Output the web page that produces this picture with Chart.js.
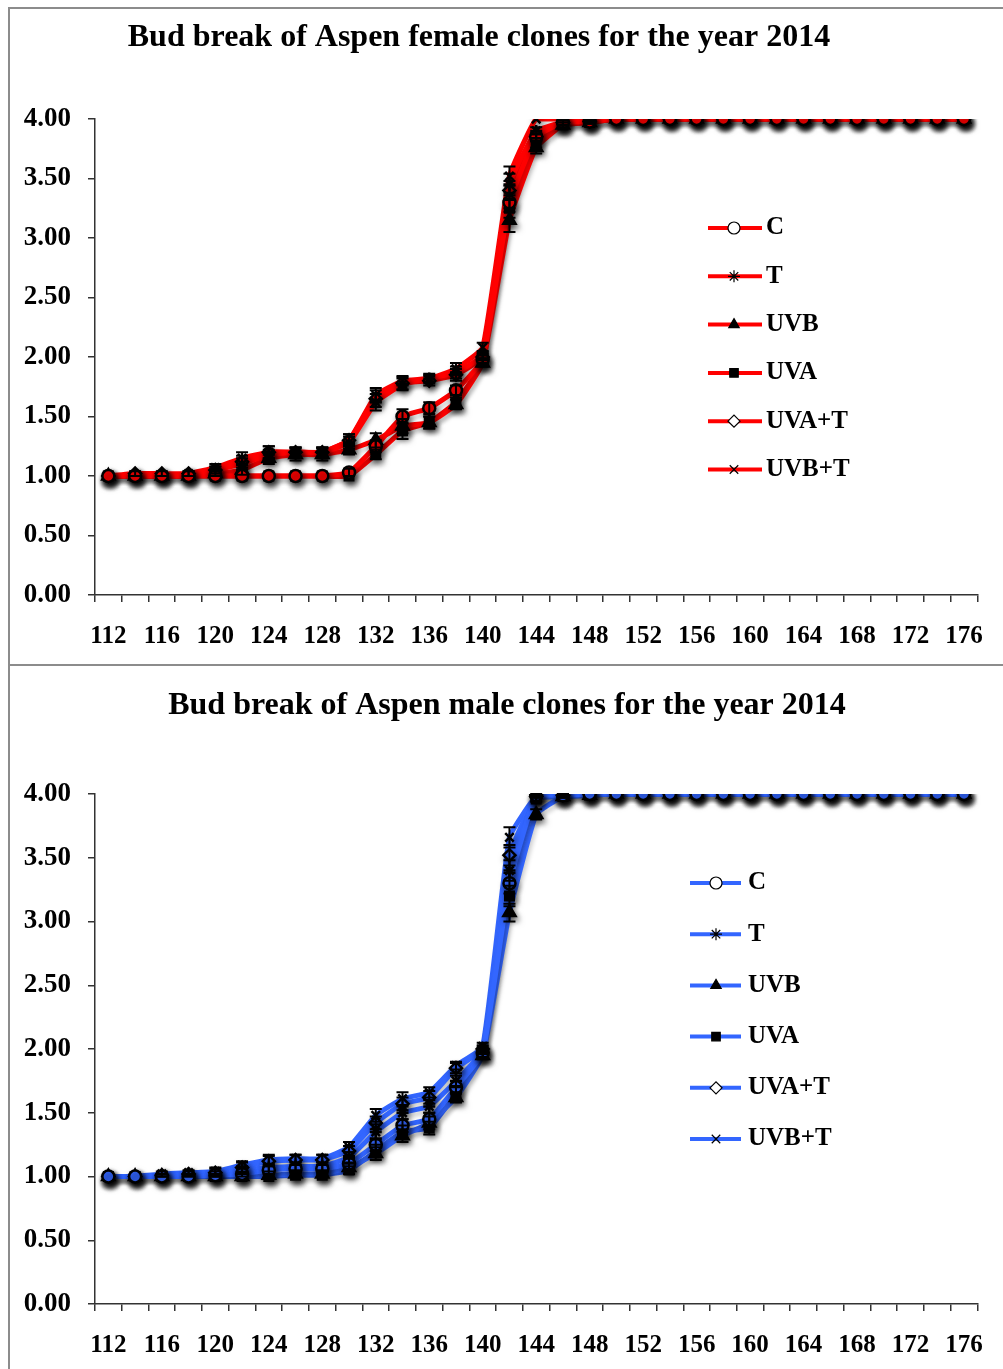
<!DOCTYPE html>
<html>
<head>
<meta charset="utf-8">
<script src="https://cdn.jsdelivr.net/npm/chart.js@4/dist/chart.umd.min.js"></script>
<style>
  body { margin: 0; background: #fff; width: 1003px; height: 1369px; overflow: hidden; position: relative; }
  .panel { position: absolute; left: 8px; width: 1000px; border: 2px solid #8c8c8c; background: #fff; }
  #top { top: 7px; height: 655px; }
  #bottom { top: 664px; height: 720px; }
  canvas { position: absolute; left: 0; top: 0; }
</style>
</head>
<body>
<div class="panel" id="top"><canvas id="femaleChart" width="993" height="655"></canvas></div>
<div class="panel" id="bottom"><canvas id="maleChart" width="993" height="703"></canvas></div>
<script>
// day of year
const days = [112,114,116,118,120,122,124,126,128,130,132,134,136,138,140,142,144,
              146,148,150,152,154,156,158,160,162,164,166,168,170,172,174,176];
const seriesNames = ['C', 'T', 'UVB', 'UVA', 'UVA+T', 'UVB+T'];
const yTicks = [0, 0.5, 1, 1.5, 2, 2.5, 3, 3.5, 4];

// female clones
const femaleC    = [1,1,1,1,1,1,1,1,1,1.03,1.25,1.5,1.57,1.72,1.98,3.3,3.85, 3.97,3.98,4,4,4,4,4,4,4,4,4,4,4,4,4,4];
const femaleT    = [1,1,1,1,1.05,1.1,1.18,1.2,1.2,1.28,1.62,1.77,1.82,1.87,2.02,3.45,3.9, 3.97,3.98,4,4,4,4,4,4,4,4,4,4,4,4,4,4];
const femaleUVB  = [1,1,1,1,1.02,1.05,1.15,1.18,1.18,1.22,1.3,1.42,1.45,1.6,1.95,3.15,3.76, 3.95,3.97,4,4,4,4,4,4,4,4,4,4,4,4,4,4];
const femaleUVA  = [1,1,1,1,1,1,1,1,1,1,1.18,1.38,1.45,1.62,1.96,3.25,3.8, 3.95,3.97,4,4,4,4,4,4,4,4,4,4,4,4,4,4];
const femaleUVAT = [1,1.02,1.02,1.02,1.05,1.12,1.2,1.2,1.2,1.3,1.65,1.78,1.8,1.85,2.0,3.4,3.85, 3.97,3.98,4,4,4,4,4,4,4,4,4,4,4,4,4,4];
const femaleUVBT = [1,1,1,1.02,1.07,1.15,1.2,1.2,1.2,1.3,1.68,1.8,1.82,1.9,2.08,3.52,4.0, 4,4,4,4,4,4,4,4,4,4,4,4,4,4,4,4];
// female standard errors
const femaleErrC    = [0,0,0,0,0,0,0,0,0,0.03,0.05,0.06,0.05,0.04,0.03,0.08,0.03, 0.02,0.01,0,0,0,0,0,0,0,0,0,0,0,0,0,0];
const femaleErrT    = [0,0,0,0,0.03,0.05,0.04,0.04,0.04,0.05,0.07,0.05,0.04,0.05,0.03,0.09,0.03, 0.02,0.01,0,0,0,0,0,0,0,0,0,0,0,0,0,0];
const femaleErrUVB  = [0,0,0,0,0.02,0.04,0.05,0.05,0.05,0.04,0.06,0.06,0.05,0.04,0.03,0.1,0.05, 0.02,0.01,0,0,0,0,0,0,0,0,0,0,0,0,0,0];
const femaleErrUVA  = [0,0,0,0,0,0,0,0,0,0,0.04,0.07,0.05,0.04,0.03,0.08,0.04, 0.02,0.01,0,0,0,0,0,0,0,0,0,0,0,0,0,0];
const femaleErrUVAT = [0,0.02,0.02,0.02,0.03,0.05,0.05,0.04,0.04,0.05,0.07,0.05,0.04,0.05,0.03,0.08,0.03, 0.02,0.01,0,0,0,0,0,0,0,0,0,0,0,0,0,0];
const femaleErrUVBT = [0,0,0,0.02,0.03,0.05,0.05,0.04,0.04,0.05,0.06,0.04,0.03,0.05,0.04,0.08,0, 0,0,0,0,0,0,0,0,0,0,0,0,0,0,0,0];

// male clones
const maleC    = [1,1,1,1,1.01,1.02,1.05,1.06,1.06,1.1,1.25,1.4,1.45,1.7,1.97,3.3,3.99, 3.99,4,4,4,4,4,4,4,4,4,4,4,4,4,4,4];
const maleT    = [1,1,1.01,1.01,1.02,1.05,1.07,1.08,1.08,1.15,1.35,1.5,1.55,1.75,1.99,3.4,3.97, 3.99,4,4,4,4,4,4,4,4,4,4,4,4,4,4,4];
const maleUVB  = [1,1,1,1,1,1,1.01,1.02,1.02,1.07,1.18,1.32,1.42,1.62,1.95,3.07,3.84, 3.98,3.99,4,4,4,4,4,4,4,4,4,4,4,4,4,4];
const maleUVA  = [1,1,1,1,1,1,1,1.01,1.01,1.05,1.2,1.35,1.38,1.65,1.96,3.2,3.96, 3.98,3.99,4,4,4,4,4,4,4,4,4,4,4,4,4,4];
const maleUVAT = [1,1,1.01,1.02,1.03,1.07,1.12,1.13,1.13,1.2,1.42,1.57,1.62,1.85,2.0,3.52,3.98, 3.99,4,4,4,4,4,4,4,4,4,4,4,4,4,4,4];
const maleUVBT = [1,1,1.02,1.03,1.04,1.09,1.13,1.14,1.14,1.23,1.48,1.61,1.66,1.87,2.02,3.66,3.98, 3.99,4,4,4,4,4,4,4,4,4,4,4,4,4,4,4];
// male standard errors
const maleErrC    = [0,0,0,0,0.01,0.02,0.03,0.03,0.03,0.04,0.05,0.05,0.05,0.05,0.03,0.08,0.01, 0.01,0,0,0,0,0,0,0,0,0,0,0,0,0,0,0];
const maleErrT    = [0,0,0.01,0.01,0.02,0.03,0.03,0.03,0.03,0.04,0.06,0.05,0.05,0.04,0.03,0.08,0.02, 0.01,0,0,0,0,0,0,0,0,0,0,0,0,0,0,0];
const maleErrUVB  = [0,0,0,0,0,0,0.01,0.02,0.02,0.03,0.05,0.05,0.05,0.04,0.03,0.07,0.04, 0.01,0,0,0,0,0,0,0,0,0,0,0,0,0,0,0];
const maleErrUVA  = [0,0,0,0,0,0,0,0.01,0.01,0.03,0.05,0.05,0.05,0.05,0.03,0.08,0.02, 0.01,0,0,0,0,0,0,0,0,0,0,0,0,0,0,0];
const maleErrUVAT = [0,0,0.01,0.02,0.03,0.04,0.04,0.04,0.04,0.04,0.05,0.05,0.05,0.04,0.03,0.08,0.01, 0.01,0,0,0,0,0,0,0,0,0,0,0,0,0,0,0];
const maleErrUVBT = [0,0,0.02,0.02,0.03,0.03,0.04,0.03,0.03,0.04,0.05,0.05,0.04,0.03,0.03,0.08,0.01, 0.01,0,0,0,0,0,0,0,0,0,0,0,0,0,0,0];

const markers = [
    { style: 'circle',   filled: false },
    { style: 'star',     filled: false },
    { style: 'triangle', filled: true },
    { style: 'rect',     filled: true },
    { style: 'rectRot',  filled: false },
    { style: 'crossRot', filled: false }
];

const SERIF = '"Liberation Serif", "Times New Roman", serif';

function buildDatasets (values, errors, color) {
    let lines = [], points = [];
    values.forEach((v, i) => {
        lines.push({
            label: seriesNames[i],
            data: v,
            borderColor: color,
            borderWidth: 5,
            pointRadius: 0,
            tension: 0.12,
            order: 1
        });
        points.push({
            label: seriesNames[i] + ' pts',
            data: v,
            errors: errors[i],
            showLine: false,
            pointStyle: markers[i].style,
            pointRadius: markers[i].style == 'triangle' ? 7 : 6,
            pointBorderWidth: 2.5,
            pointBorderColor: '#000',
            pointBackgroundColor: markers[i].filled ? '#000' : color,
            order: 0
        });
    });
    return lines.concat(points);
}

// soft drop shadow under the marks
const shadow = {
    id: 'shadow',
    beforeDatasetDraw (chart, args) {
        const ctx = chart.ctx;
        const isPts = args.meta._dataset.showLine === false;
        ctx.save();
        ctx.shadowColor = isPts ? 'rgba(0,0,0,0.55)' : 'rgba(0,0,0,0.18)';
        ctx.shadowBlur = isPts ? 6 : 4;
        ctx.shadowOffsetX = 2;
        ctx.shadowOffsetY = 4;
    },
    afterDatasetDraw (chart) {
        chart.ctx.restore();
    }
};

// error bars drawn from the y scale
const errorBars = {
    id: 'errorBars',
    afterDatasetsDraw (chart) {
        const ctx = chart.ctx;
        const y = chart.scales.y;
        ctx.save();
        ctx.strokeStyle = '#000';
        ctx.lineWidth = 2;
        chart.data.datasets.forEach((ds, i) => {
            if (!ds.errors) return;
            chart.getDatasetMeta(i).data.forEach((el, j) => {
                const e = ds.errors[j];
                if (!e) return;
                const top = y.getPixelForValue(ds.data[j] + e);
                const bot = y.getPixelForValue(ds.data[j] - e);
                ctx.beginPath();
                ctx.moveTo(el.x, top); ctx.lineTo(el.x, bot);
                ctx.moveTo(el.x - 6, top); ctx.lineTo(el.x + 6, top);
                ctx.moveTo(el.x - 6, bot); ctx.lineTo(el.x + 6, bot);
                ctx.stroke();
            });
        });
        ctx.restore();
    }
};

// title + legend drawn at fixed spots
const decor = {
    id: 'decor',
    afterDraw (chart, args, opts) {
        const ctx = chart.ctx;
        ctx.save();
        ctx.fillStyle = '#000';
        ctx.font = 'bold 32px ' + SERIF;
        ctx.textAlign = 'center';
        ctx.textBaseline = 'middle';
        ctx.fillText(opts.title, opts.titleX, opts.titleY);

        const L = opts.legend;
        seriesNames.forEach((name, i) => {
            const yy = L.y0 + i * L.dy;
            ctx.strokeStyle = opts.color;
            ctx.lineWidth = 4;
            ctx.beginPath();
            ctx.moveTo(L.x0, yy); ctx.lineTo(L.x1, yy);
            ctx.stroke();
            ctx.fillStyle = markers[i].filled ? '#000' : '#fff';
            ctx.strokeStyle = '#000';
            ctx.lineWidth = 1.2;
            Chart.helpers.drawPoint(ctx, {
                pointStyle: markers[i].style,
                radius: 6,
                borderWidth: 1.2,
                rotation: 0
            }, L.xm, yy);
            ctx.fillStyle = '#000';
            ctx.font = 'bold 25px ' + SERIF;
            ctx.textAlign = 'left';
            ctx.fillText(name, L.xt, yy);
        });
        ctx.restore();
    }
};

function makeChart (id, values, errors, color, cfg) {
    return new Chart(document.getElementById(id), {
        type: 'line',
        data: { labels: days, datasets: buildDatasets(values, errors, color) },
        plugins: [shadow, errorBars, decor],
        options: {
            responsive: false,
            devicePixelRatio: 1,
            animation: false,
            layout: { padding: { top: cfg.top, right: 15, left: 0, bottom: 0 } },
            plugins: {
                legend: { display: false },
                tooltip: { enabled: false },
                title: { display: false },
                decor: cfg.decor
            },
            scales: {
                x: {
                    offset: true,
                    grid: { offset: true, drawOnChartArea: false, drawTicks: true, tickLength: 7, color: '#333', lineWidth: 1.5 },
                    border: { color: '#333', width: 1.5 },
                    afterFit: s => { s.height = cfg.xHeight; },
                    ticks: {
                        autoSkip: false,
                        maxRotation: 0,
                        padding: 20,
                        color: '#000',
                        font: { family: SERIF, size: 25, weight: 'bold' },
                        callback: (v, i) => i % 2 == 0 ? days[i] : ''
                    }
                },
                y: {
                    min: 0,
                    max: 4,
                    grid: { drawOnChartArea: false, drawTicks: true, tickLength: 7, color: '#333', lineWidth: 1.5 },
                    border: { color: '#333', width: 1.5 },
                    afterFit: s => { s.width = 85; },
                    afterBuildTicks: s => { s.ticks = yTicks.map(v => ({ value: v })); },
                    ticks: {
                        padding: 17,
                        color: '#000',
                        font: { family: SERIF, size: 27, weight: 'bold' },
                        callback: v => v.toFixed(2)
                    }
                }
            }
        }
    });
}

makeChart('femaleChart',
    [femaleC, femaleT, femaleUVB, femaleUVA, femaleUVAT, femaleUVBT],
    [femaleErrC, femaleErrT, femaleErrUVB, femaleErrUVA, femaleErrUVAT, femaleErrUVBT],
    '#ff0000',
    {
        top: 110, xHeight: 69,
        decor: {
            title: 'Bud break of Aspen female clones for the year 2014', titleX: 469, titleY: 29, color: '#ff0000',
            legend: { x0: 698, x1: 752, xm: 724, xt: 756, y0: 219, dy: 48.3 }
        }
    });

makeChart('maleChart',
    [maleC, maleT, maleUVB, maleUVA, maleUVAT, maleUVBT],
    [maleErrC, maleErrT, maleErrUVB, maleErrUVA, maleErrUVAT, maleErrUVBT],
    '#3366ff',
    {
        top: 128, xHeight: 65,
        decor: {
            title: 'Bud break of Aspen male clones for the year 2014', titleX: 497, titleY: 40, color: '#3366ff',
            legend: { x0: 680, x1: 731, xm: 706, xt: 738, y0: 217, dy: 51.2 }
        }
    });
</script>
</body>
</html>
